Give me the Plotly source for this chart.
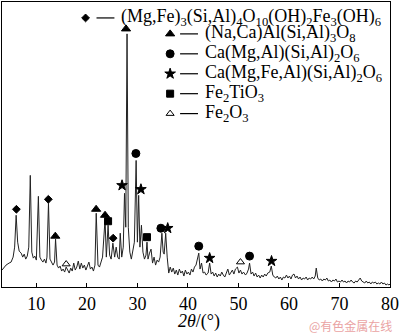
import plotly.graph_objects as go

# XRD pattern (2theta in degrees, intensity in arbitrary units)
two_theta = [3.2, 4.0, 4.6, 5.0, 5.4, 5.7, 6.0, 6.3, 6.6, 7.0, 7.3, 7.6, 7.9, 8.2, 8.5, 8.8, 9.1, 9.4, 9.7, 10.0,
             10.4, 10.7, 11.0, 11.3, 11.6, 11.9, 12.1, 12.4, 12.7, 13.0, 13.3, 13.6, 13.8, 14.1, 14.4, 14.7, 15.0,
             15.3, 15.6, 15.9, 16.2, 16.5, 16.8, 17.1, 17.4, 17.7, 18.0, 18.3, 18.6, 18.9, 19.2, 19.5, 19.8, 20.1,
             20.4, 20.7, 21.0, 21.3, 21.6, 21.85, 22.2, 22.5, 22.8, 23.1, 23.6, 23.85, 24.2, 24.5, 24.8, 25.15,
             25.5, 25.8, 26.1, 26.4, 26.6, 26.9, 27.2, 27.45, 27.7, 27.95, 28.2, 28.5, 28.8, 29.1, 29.4, 29.75,
             30.0, 30.25, 30.5, 30.8, 31.1, 31.4, 31.7, 31.9, 32.1, 32.4, 32.7, 33.0, 33.3, 33.6, 33.9, 34.2, 34.5,
             34.85, 35.1, 35.3, 35.6, 35.9, 36.2, 36.5, 36.8, 37.1, 37.4, 37.7, 38.0, 38.3, 38.6, 38.9, 39.2, 39.5,
             39.8, 40.1, 40.4, 40.7, 41.0, 41.3, 41.6, 42.15, 42.4, 42.7, 43.0, 43.3, 43.6, 44.0, 44.3, 44.6, 44.9,
             45.2, 45.5, 45.8, 46.1, 46.4, 46.7, 47.0, 47.3, 47.6, 47.9, 48.2, 48.5, 48.8, 49.1, 49.4, 49.8, 50.1,
             50.4, 50.7, 51.0, 51.4, 51.7, 52.0, 52.2, 52.5, 52.8, 53.1, 53.4, 53.7, 54.0, 54.3, 54.6, 54.9, 55.2,
             55.5, 55.8, 56.2, 56.5, 56.8, 57.1, 57.4, 57.7, 58.0, 58.3, 58.6, 58.9, 59.2, 59.5, 59.8, 60.1, 60.4,
             60.7, 61.0, 61.3, 61.6, 61.9, 62.2, 62.5, 62.8, 63.1, 63.4, 63.7, 64.0, 64.3, 64.6, 64.9, 65.2, 65.4,
             65.7, 66.0, 66.3, 66.6, 66.9, 67.2, 67.5, 67.8, 68.1, 68.4, 68.7, 69.0, 69.3, 69.6, 69.9, 70.2, 70.5,
             70.8, 71.1, 71.4, 71.7, 72.0, 72.3, 72.6, 72.9, 73.2, 73.5, 73.8, 74.1, 74.4, 74.7, 75.0, 75.3, 75.6,
             75.9, 76.2, 76.5, 76.8, 77.1, 77.4, 77.7, 78.0, 78.3, 78.6, 78.9, 79.2, 79.5, 79.8, 80.0]
intensity = [17, 22, 24, 25, 30, 40, 72, 45, 36, 34, 30, 33, 28, 31, 40, 112, 35, 29, 31, 27,
             91, 30, 27, 25, 28, 24, 30, 84, 28, 24, 22, 25, 48, 22, 19, 21, 16,
             18, 15, 20, 17, 14, 19, 16, 24, 17, 20, 26, 18, 24, 19, 22, 17, 21,
             25, 18, 20, 16, 22, 74, 22, 20, 24, 30, 68, 30, 62, 32, 28, 44,
             30, 40, 30, 28, 54, 30, 40, 94, 60, 254, 60, 35, 28, 35, 45, 127,
             45, 92, 40, 62, 35, 28, 32, 45, 28, 34, 38, 24, 30, 22, 27, 25, 30,
             54, 35, 33, 54, 30, 14, 20, 15, 19, 13, 17, 12, 18, 14, 16, 11, 17,
             13, 15, 12, 18, 15, 20, 22, 34, 18, 24, 14, 15, 12, 14, 24, 13, 15,
             11, 14, 10, 13, 11, 15, 12, 10, 14, 18, 12, 14, 17, 13, 18, 20, 14,
             17, 13, 15, 12, 14, 18, 24, 13, 15, 11, 14, 10, 12, 9, 12, 10, 13,
             11, 14, 15, 21, 12, 10, 9, 11, 8, 10, 7, 10, 9, 12, 9, 11, 8,
             12, 13, 9, 11, 8, 10, 7, 9, 8, 10, 7, 9, 8, 10, 8, 11, 19,
             9, 7, 8, 6, 8, 7, 9, 6, 7, 5, 7, 6, 8, 5, 6, 5, 7,
             5, 6, 4, 6, 5, 7, 5, 4, 6, 5, 7, 9, 6, 5, 4, 6, 4,
             5, 3, 5, 4, 5, 3, 4, 3, 5, 3, 4, 2, 3, 2, 3]

# Phase markers (2theta, intensity level of symbol)
diamond_x = [6.05, 12.37, 25.2]
diamond_y = [78, 88, 49]
triangle_x = [27.75, 13.75, 21.83, 23.6]
triangle_y = [259, 51, 78, 72]
circle_x = [29.7, 34.65, 42.15, 52.2]
circle_y = [134, 59, 41, 31]
star_x = [26.96, 30.7, 36.0, 44.3, 56.55]
star_y = [102, 98, 59, 29, 26]
square_x = [24.2, 31.9]
square_y = [66, 50]
open_tri_x = [15.9, 50.4]
open_tri_y = [23, 25]

x_ticks = [10, 20, 30, 40, 50, 60, 70, 80]

phase_labels = [
    "(Mg,Fe)<sub>3</sub>(Si,Al)<sub>4</sub>O<sub>10</sub>(OH)<sub>2</sub>Fe<sub>3</sub>(OH)<sub>6</sub>",
    "(Na,Ca)Al(Si,Al)<sub>3</sub>O<sub>8</sub>",
    "Ca(Mg,Al)(Si,Al)<sub>2</sub>O<sub>6</sub>",
    "Ca(Mg,Fe,Al)(Si,Al)<sub>2</sub>O<sub>6</sub>",
    "Fe<sub>2</sub>TiO<sub>3</sub>",
    "Fe<sub>2</sub>O<sub>3</sub>",
]
phase_symbols = ["diamond", "triangle-up", "circle", "star", "square", "triangle-up-open"]
phase_sizes = [6, 8, 8, 8, 7, 7]

FONT = "Liberation Serif, Times New Roman, serif"

fig = go.Figure()
fig.add_trace(go.Scatter(x=two_theta, y=intensity, mode="lines",
                         line=dict(color="#222222", width=1), showlegend=False))

marker_sets = [(diamond_x, diamond_y), (triangle_x, triangle_y), (circle_x, circle_y),
               (star_x, star_y), (square_x, square_y), (open_tri_x, open_tri_y)]
for (mx, my), sym, sz in zip(marker_sets, phase_symbols, phase_sizes):
    fig.add_trace(go.Scatter(x=mx, y=my, mode="markers", showlegend=False,
                             marker=dict(symbol=sym, size=sz, color="black",
                                         line=dict(color="black", width=1))))

# Legend block drawn on an overlay pixel-like axis
leg_rows_y = [17, 33, 53, 73, 93, 113]
leg_marker_x = [86, 171, 171, 171, 171, 171]
leg_line_x0 = [97, 181, 181, 181, 181, 181]
leg_text_x = [120, 204, 204, 204, 204, 204]
for i, lab in enumerate(phase_labels):
    fig.add_trace(go.Scatter(x=[leg_marker_x[i]], y=[leg_rows_y[i]], xaxis="x2", yaxis="y2",
                             mode="markers", showlegend=False, hoverinfo="skip",
                             marker=dict(symbol=phase_symbols[i], size=phase_sizes[i], color="black",
                                         line=dict(color="black", width=1))))
    fig.add_shape(type="line", xref="x2", yref="y2", x0=leg_line_x0[i], x1=leg_line_x0[i] + 18,
                  y0=leg_rows_y[i], y1=leg_rows_y[i], line=dict(color="black", width=1.2))
    fig.add_annotation(x=leg_text_x[i], y=leg_rows_y[i], xref="x2", yref="y2", text=lab,
                       showarrow=False, xanchor="left", yanchor="middle",
                       font=dict(family=FONT, size=18, color="black"))

# axis title and watermark (paper coords: plot area spans px 2..392 horizontally, 1..287 vertically)
fig.add_annotation(x=0.5077, y=-0.122, xref="paper", yref="paper", text="<i>2θ</i>/(°)",
                   showarrow=False, xanchor="center", yanchor="middle",
                   font=dict(family=FONT, size=18, color="black"))
fig.add_annotation(x=1.0103, y=-0.136, xref="paper", yref="paper", text="@有色金属在线",
                   showarrow=False, xanchor="right", yanchor="middle",
                   font=dict(family="Noto Sans CJK SC", size=12, color="#eaa3a3"))

fig.update_layout(
    width=400, height=334,
    margin=dict(l=2, r=8, t=1, b=47),
    plot_bgcolor="white", paper_bgcolor="white",
    showlegend=False,
    xaxis=dict(range=[3.2, 80], tickvals=x_ticks, ticks="inside", ticklen=4, tickcolor="black",
               showline=True, linecolor="black", linewidth=1, mirror=True, showgrid=False,
               zeroline=False, ticklabeloverflow="allow",
               tickfont=dict(family=FONT, size=18, color="black")),
    yaxis=dict(range=[0, 286], showticklabels=False, ticks="", showline=True, linecolor="black",
               linewidth=1, mirror=True, showgrid=False, zeroline=False),
    xaxis2=dict(range=[2, 392], overlaying="x", visible=False),
    yaxis2=dict(range=[287, 1], overlaying="y", visible=False),
)

fig.write_html("out.html", config={"displayModeBar": False},
               post_script="document.body.style.margin='0';document.body.style.padding='0';"
                           "document.body.style.overflow='hidden';")
